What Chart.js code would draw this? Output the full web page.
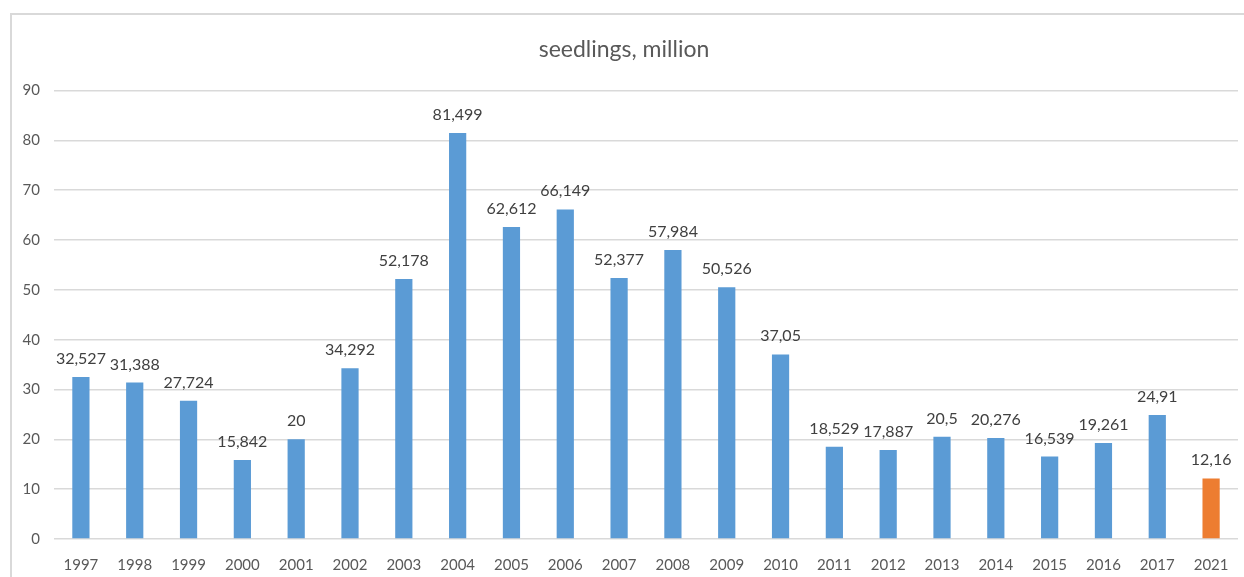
<!DOCTYPE html>
<html>
<head>
<meta charset="utf-8">
<script src="https://cdn.jsdelivr.net/npm/chart.js@4"></script>
<style>
  html, body { margin: 0; padding: 0; background: #fff; }
  #wrap { width: 1244px; height: 577px; position: relative; }
</style>
</head>
<body>
<div id="wrap"><canvas id="seedChart" width="1244" height="577"></canvas></div>
<script>
// anos y valores (millones de plantulas)
const years = ["1997", "1998", "1999", "2000", "2001", "2002", "2003", "2004", "2005", "2006", "2007",
  "2008", "2009", "2010", "2011", "2012", "2013", "2014", "2015", "2016", "2017", "2021"];
const seedlings = [32.527, 31.388, 27.724, 15.842, 20, 34.292, 52.178, 81.499, 62.612, 66.149, 52.377,
  57.984, 50.526, 37.05, 18.529, 17.887, 20.5, 20.276, 16.539, 19.261, 24.91, 12.16];
const barColors = seedlings.map((v, i) => (i === seedlings.length - 1 ? "#ed7d31" : "#5b9bd5"));

const fontFam = "Lato, 'Open Sans', sans-serif";

// marco gris + etiquetas de valor encima de cada barra
const extras = {
  id: "extras",
  beforeDraw(chart) {
    const c = chart.ctx;
    c.save();
    c.strokeStyle = "#d9d9d9";
    c.lineWidth = 2;
    c.strokeRect(11, 14, 1240, 570);
    c.restore();
  },
  afterDatasetsDraw(chart) {
    const c = chart.ctx;
    const meta = chart.getDatasetMeta(0);
    c.save();
    c.font = "16px " + fontFam;
    c.fillStyle = "#404040";
    c.textAlign = "center";
    c.textBaseline = "alphabetic";
    meta.data.forEach((bar, i) => {
      const txt = String(seedlings[i]).replace(".", ",");
      c.fillText(txt, bar.x, bar.y - 13);
    });
    c.restore();
  }
};

new Chart(document.getElementById("seedChart").getContext("2d"), {
  type: "bar",
  data: {
    labels: years,
    datasets: [
      {
        label: "seedlings, million",
        data: seedlings,
        backgroundColor: barColors,
        borderWidth: 0,
        barPercentage: 1,
        categoryPercentage: 0.32,
      },
    ],
  },
  options: {
    responsive: false,
    animation: false,
    layout: { padding: { left: 10, right: 6, top: 0, bottom: 0 } },
    plugins: {
      legend: { display: false },
      tooltip: { enabled: false },
      title: {
        display: true,
        text: "seedlings, million",
        color: "#595959",
        font: { family: fontFam, size: 23, weight: "normal" },
        padding: { top: 36, bottom: 27 },
      },
    },
    scales: {
      x: {
        grid: { display: false },
        border: { display: false },
        ticks: {
          color: "#595959",
          font: { family: fontFam, size: 15 },
          padding: 9,
          maxRotation: 0,
          autoSkip: false,
        },
        afterFit(scale) { scale.height = 38; },
      },
      y: {
        min: 0,
        max: 90,
        ticks: {
          stepSize: 10,
          color: "#595959",
          font: { family: fontFam, size: 15 },
          padding: 14,
        },
        grid: { color: "#d9d9d9", lineWidth: 1.5, drawTicks: false },
        border: { display: false },
        afterFit(scale) { scale.width = 44; },
      },
    },
  },
  plugins: [extras],
});
</script>
</body>
</html>
